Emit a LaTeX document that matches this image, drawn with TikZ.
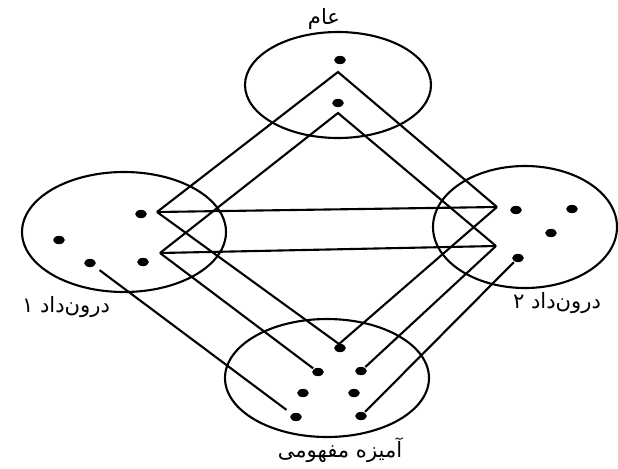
\documentclass[tikz,border=0pt]{standalone}
\usepackage{fontspec}
\newfontfamily\farsi[Script=Arabic]{DejaVu Sans}
\TeXXeTstate=1
\usetikzlibrary{shapes.geometric}

\begin{document}
\begin{tikzpicture}[x=0.03cm, y=-0.03cm, line width=1.8pt,
  dot/.style={ellipse, fill, inner sep=0pt, minimum width=10pt, minimum height=7pt},
  spacename/.style={font=\fontsize{18}{21}\selectfont\farsi}]
  \useasboundingbox (0,0) rectangle (618,468);

  % the four spaces
  \draw (338,85) ellipse [x radius=93, y radius=53];
  \draw (124,232) ellipse [x radius=102, y radius=60];
  \draw (525,227) ellipse [x radius=92, y radius=61];
  \draw (327,378) ellipse [x radius=102, y radius=59];

  \node[dot] (g1) at (340,60) {};
  \node[dot] (g2) at (338,103) {};

  \node[dot] (a1) at (141,214) {};
  \node[dot] (a2) at (59,240) {};
  \node[dot] (a3) at (90,263) {};
  \node[dot] (a4) at (143,262) {};

  \node[dot] (b1) at (516,210) {};
  \node[dot] (b2) at (572,209) {};
  \node[dot] (b3) at (551,233) {};
  \node[dot] (b4) at (518,258) {};

  \node[dot] (m1) at (340,348) {};
  \node[dot] (m2) at (318,372) {};
  \node[dot] (m3) at (361,371) {};
  \node[dot] (m4) at (303,393) {};
  \node[dot] (m5) at (354,393) {};
  \node[dot] (m6) at (296,417) {};
  \node[dot] (m7) at (361,416) {};

  % corners of the zigzags
  \coordinate (gA) at (338,72);
  \coordinate (gB) at (338,113);
  \coordinate (iA) at (157,212);
  \coordinate (iB) at (160,253);
  \coordinate (jA) at (497,207);
  \coordinate (jB) at (496,246);
  \coordinate (mA) at (339,344);

  \draw (iA) -- (gA) -- (jA);
  \draw (iB) -- (gB) -- (jB);
  \draw (iA) -- (jA);
  \draw (iB) -- (jB);
  \draw (iA) -- (mA) -- (jA);
  \draw (iB) -- (m2);
  \draw (jB) -- (m3);
  \draw[shorten <=5pt, shorten >=5pt] (a3) -- (m6);
  \draw (b4) -- (m7);

  \node[spacename] (generic) at (324,19) {\beginR عام\endR};
  \node[spacename] (input1) at (66,307) {\beginR درون^^^^200cداد ۱\endR};
  \node[spacename] (input2) at (557,303) {\beginR درون^^^^200cداد ۲\endR};
  \node[spacename] (blend) at (340,450) {\beginR آمیزه مفهومی\endR};
\end{tikzpicture}
\end{document}
